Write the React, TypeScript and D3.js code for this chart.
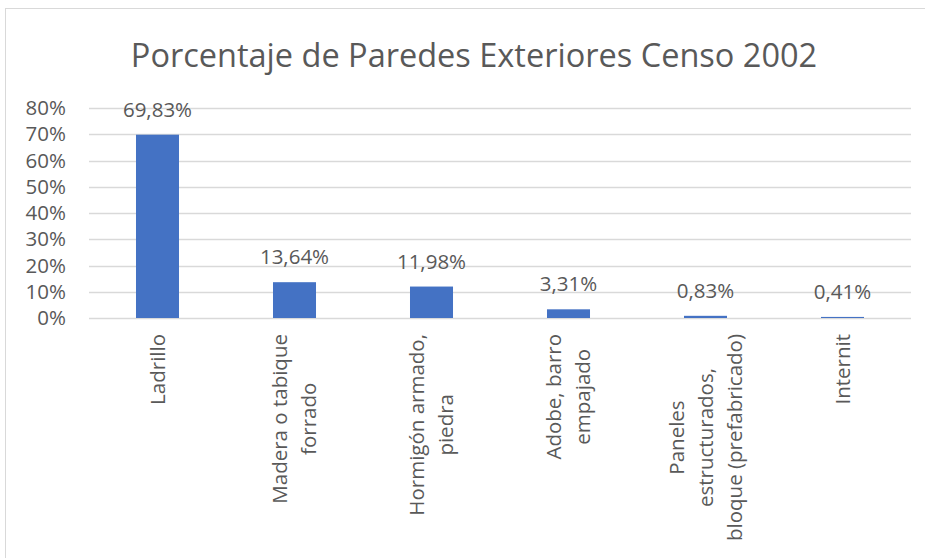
import React, { useEffect, useRef } from 'react';
import * as d3 from 'd3';

// categories of the census chart (lines of each label)
const categories: string[][] = [
    ['Ladrillo'],
    ['Madera o tabique', 'forrado'],
    ['Hormigón armado,', 'piedra'],
    ['Adobe, barro', 'empajado'],
    ['Paneles', 'estructurados,', 'bloque (prefabricado)'],
    ['Internit'],
];
const values: number[] = [0.6983, 0.1364, 0.1198, 0.0331, 0.0083, 0.0041];
const yTicks: number[] = [0, 0.1, 0.2, 0.3, 0.4, 0.5, 0.6, 0.7, 0.8];
const title = 'Porcentaje de Paredes Exteriores Censo 2002';

const W = 925;
const H = 558;
const FONT = '"Open Sans", "Noto Sans", sans-serif';
const TEXT = '#595959';
const GRID = '#d9d9d9';
const BAR = '#4472c4';
const LABEL_SIZE = 20.5;

const fmt = (v: number) => (v * 100).toFixed(2).replace('.', ',') + '%';

export default function App() {
    const ref = useRef<SVGSVGElement>(null);

    useEffect(() => {
        const svg = d3.select(ref.current);
        svg.selectAll('*').remove();

        const left = 89, right = 911, top = 108, bottom = 318;
        const x = d3.scaleBand<number>()
            .domain(categories.map((_, i) => i))
            .range([left, right])
            .paddingInner(0.686)
            .paddingOuter(0.343);
        const y = d3.scaleLinear().domain([0, 0.8]).range([bottom, top]);

        // chart border
        svg.append('rect')
            .attr('x', 5.5).attr('y', 8.5)
            .attr('width', W).attr('height', H)
            .attr('fill', '#fff').attr('stroke', GRID);

        svg.append('text')
            .attr('x', 474).attr('y', 67)
            .attr('text-anchor', 'middle')
            .attr('font-family', FONT)
            .attr('font-size', 32.5)
            .attr('fill', TEXT)
            .text(title);

        // grid
        svg.append('g').selectAll('line').data(yTicks).join('line')
            .attr('x1', left).attr('x2', right)
            .attr('y1', d => Math.round(y(d)) + 0.5)
            .attr('y2', d => Math.round(y(d)) + 0.5)
            .attr('stroke', GRID).attr('stroke-width', 1.3);

        svg.append('g').selectAll('text').data(yTicks).join('text')
            .attr('x', 66).attr('y', d => y(d))
            .attr('dy', '0.35em')
            .attr('text-anchor', 'end')
            .attr('font-family', FONT).attr('font-size', LABEL_SIZE)
            .attr('fill', TEXT)
            .text(d => Math.round(d * 100) + '%');

        // bars
        svg.append('g').selectAll('rect').data(values).join('rect')
            .attr('x', (_, i) => x(i)!)
            .attr('width', x.bandwidth())
            .attr('y', d => y(d))
            .attr('height', d => bottom - y(d))
            .attr('fill', BAR);

        svg.append('g').selectAll('text').data(values).join('text')
            .attr('x', (_, i) => x(i)! + x.bandwidth() / 2)
            .attr('y', d => y(d) - 18)
            .attr('text-anchor', 'middle')
            .attr('font-family', FONT).attr('font-size', LABEL_SIZE)
            .attr('fill', TEXT)
            .text(d => fmt(d));

        // rotated category labels, lines centered within block
        const lineH = 29;
        const labelTop = 334;
        categories.forEach((lines, i) => {
            const cx = x(i)! + x.bandwidth() / 2;
            const g = svg.append('g');
            const texts = g.selectAll('text').data(lines).join('text')
                .attr('text-anchor', 'middle')
                .attr('font-family', FONT).attr('font-size', LABEL_SIZE)
                .attr('fill', TEXT)
                .attr('y', (_, j) => (j - (lines.length - 1) / 2) * lineH)
                .attr('dy', '0.35em')
                .text(d => d);
            let maxLen = 0;
            texts.each(function () {
                maxLen = Math.max(maxLen, (this as SVGTextElement).getComputedTextLength());
            });
            g.attr('transform', `translate(${cx},${labelTop + maxLen / 2}) rotate(-90)`);
        });
    }, []);

    return (
        <svg
            ref={ref}
            width={W}
            height={H}
            style={{ position: 'absolute', left: 0, top: 0, background: '#fff' }}
        />
    );
}
